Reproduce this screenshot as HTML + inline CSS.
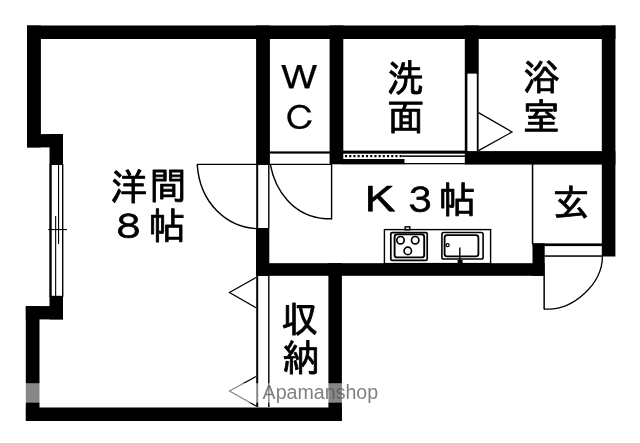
<!DOCTYPE html>
<html lang="ja">
<head>
<meta charset="utf-8">
<title>間取り図</title>
<style>
html,body{margin:0;padding:0;background:#fff;}
body{width:640px;height:443px;overflow:hidden;}
svg{display:block;will-change:transform;filter:grayscale(1);}
.lbl{font-family:"Liberation Sans","IPAGothic","Noto Sans CJK JP",sans-serif;font-size:37px;fill:#000;text-anchor:middle;stroke:#000;stroke-width:.8px;stroke-linejoin:round;}
.wm{font-family:"Liberation Sans",sans-serif;font-size:20px;fill:#555;fill-opacity:.75;}
.ln{stroke:#000;fill:none;}
</style>
</head>
<body>
<svg width="640" height="443" viewBox="0 0 640 443">
<rect x="0" y="0" width="640" height="443" fill="#fff"/>

<!-- walls -->
<g fill="#000">
<rect x="27" y="25.5" width="588.4" height="13.5"/>
<rect x="27" y="25.5" width="13.9" height="121.9"/>
<rect x="27" y="134.1" width="36" height="13.3"/>
<rect x="49.5" y="134.1" width="13.5" height="30.9"/>
<rect x="49.5" y="295.8" width="13.5" height="23.6"/>
<rect x="25.8" y="306.1" width="37.2" height="13.3"/>
<rect x="25.8" y="306.1" width="13.7" height="114.9"/>
<rect x="25.9" y="407.5" width="316" height="13.5"/>
<rect x="328.4" y="263.2" width="13.5" height="157.8"/>
<rect x="256" y="263.2" width="288.6" height="12.6"/>
<rect x="256" y="228" width="13.3" height="47.8"/>
<rect x="256.1" y="25.5" width="13.8" height="138.6"/>
<rect x="329.6" y="25.5" width="13.7" height="138.8"/>
<rect x="464.8" y="25.5" width="13.9" height="48.1"/>
<rect x="464.8" y="151.1" width="150.6" height="13.5"/>
<rect x="601.8" y="25.5" width="13.6" height="231"/>
<rect x="532.5" y="243.4" width="12.2" height="32.4"/>
<rect x="532.5" y="243.4" width="70" height="2.7"/>
</g>

<!-- window -->
<g fill="#000">
<rect x="49.3" y="164" width="2.4" height="133"/>
<rect x="62" y="164" width="1.4" height="133"/>
<rect x="58" y="164" width="1.1" height="80"/>
<rect x="55.1" y="216" width="1.1" height="81"/>
<rect x="48.3" y="229" width="18.7" height="1.1"/>
</g>

<!-- room door (yoshitsu) -->
<g class="ln" stroke-width="1.4">
<path d="M197.2 164.4H332"/>
<path d="M197.2 164.1C199.6 204.1 227.7 226.9 256 228.6"/>
<path d="M270.3 164.4C275.1 190.5 293.2 216.6 325.5 218.8H332"/>
<path d="M331.6 164V219.4"/>
<path d="M268.8 164V228"/>
<path d="M268.8 275V407"/>
</g>
<g fill="#000">
<rect x="256.2" y="164" width="2" height="64"/>
<rect x="256.2" y="275" width="2" height="132"/>
<rect x="269" y="151.4" width="61" height="2.2"/>
</g>

<!-- closet folding marks -->
<g class="ln" stroke-width="1.25">
<path d="M256 277.5L229.5 292.5L256 307.8"/>
<path d="M256 376.5L229.5 391L256 406"/>
<path d="M478.5 112.6L512 132L478.5 150.6"/>
</g>

<!-- bathroom door strip -->
<g fill="#000">
<rect x="464.8" y="73" width="2.6" height="79"/>
<rect x="476.8" y="73" width="1.8" height="79"/>
</g>

<!-- sliding door washroom -->
<g fill="#000">
<rect x="342.5" y="150.6" width="123" height="3.1"/>
<rect x="402" y="155.4" width="63" height="1.5"/>
<rect x="342.5" y="159" width="62" height="5.4"/>
<rect x="404" y="163" width="61" height="1.3"/>
</g>
<path d="M345 156.1H403" stroke="#000" stroke-width="2.2" stroke-dasharray="2.1 2.1" fill="none"/>

<!-- genkan -->
<g fill="#000">
<rect x="531.8" y="164" width="1.5" height="80"/>
<rect x="544.6" y="255.3" width="58" height="1.5"/>
<rect x="543.4" y="275" width="1.5" height="34.5"/>
</g>
<path class="ln" stroke-width="1.3" d="M602.4 256.6C602.4 285 572.4 309.1 548.8 309.1H544"/>

<!-- kitchen -->
<g class="ln" stroke-width="1.4">
<rect x="384.4" y="229.6" width="106.2" height="34"/>
<rect x="390.8" y="232.6" width="36.4" height="27.8" rx="1.5" stroke-width="1.7"/>
<rect x="394.6" y="234.4" width="29.6" height="23" rx="2.5" stroke-width="1.9"/>
<circle cx="400.5" cy="240.2" r="3.7" stroke-width="1.7"/>
<circle cx="415.2" cy="240.2" r="3.7" stroke-width="1.7"/>
<circle cx="407.8" cy="250.9" r="3.7" stroke-width="1.7"/>
<rect x="405.2" y="226.8" width="4.6" height="3"/>
<rect x="441.9" y="232.5" width="41.2" height="26.5" rx="1.8" stroke-width="1.6"/>
<rect x="444.6" y="235.2" width="33.8" height="21.2" rx="2.5" stroke-width="1.8"/>
<circle cx="447.6" cy="245.2" r="1.5" stroke-width="1.3"/>
<path d="M459.8 247.5V261" stroke-width="1.4"/>
</g>
<rect x="457.6" y="260" width="5" height="3.6" fill="#000"/>

<!-- labels -->
<g class="lbl">
<text x="129" y="199.8">洋</text><text x="168" y="199">間</text>
<text transform="translate(128.3 239.1) scale(1 .893)">８</text><text x="167" y="238.5">帖</text>
<text style="stroke-width:.25px" transform="translate(299.2 89.6) scale(1.076 .896)">Ｗ</text><text style="stroke-width:.3px" transform="translate(300 129.7) scale(1 .886)">Ｃ</text>
<text x="405.2" y="90.5">洗</text><text x="405.7" y="130">面</text>
<text x="541.6" y="89.9">浴</text><text x="541.4" y="130.2">室</text>
<text transform="translate(380.3 213) scale(1.15 .969)">Ｋ</text><text transform="translate(420.4 212.9) scale(1 .93)">３</text><text x="457.3" y="212.6">帖</text>
<text x="571" y="216.1">玄</text>
<text x="299.7" y="332.4">収</text><text x="300.7" y="371">納</text>
</g>

<!-- watermark band -->
<rect x="0" y="383.2" width="640" height="19.5" fill="#fff" fill-opacity=".53"/>
<text class="wm" x="262.6" y="399.2" textLength="115.6" lengthAdjust="spacingAndGlyphs">Apamanshop</text>
</svg>
</body>
</html>
